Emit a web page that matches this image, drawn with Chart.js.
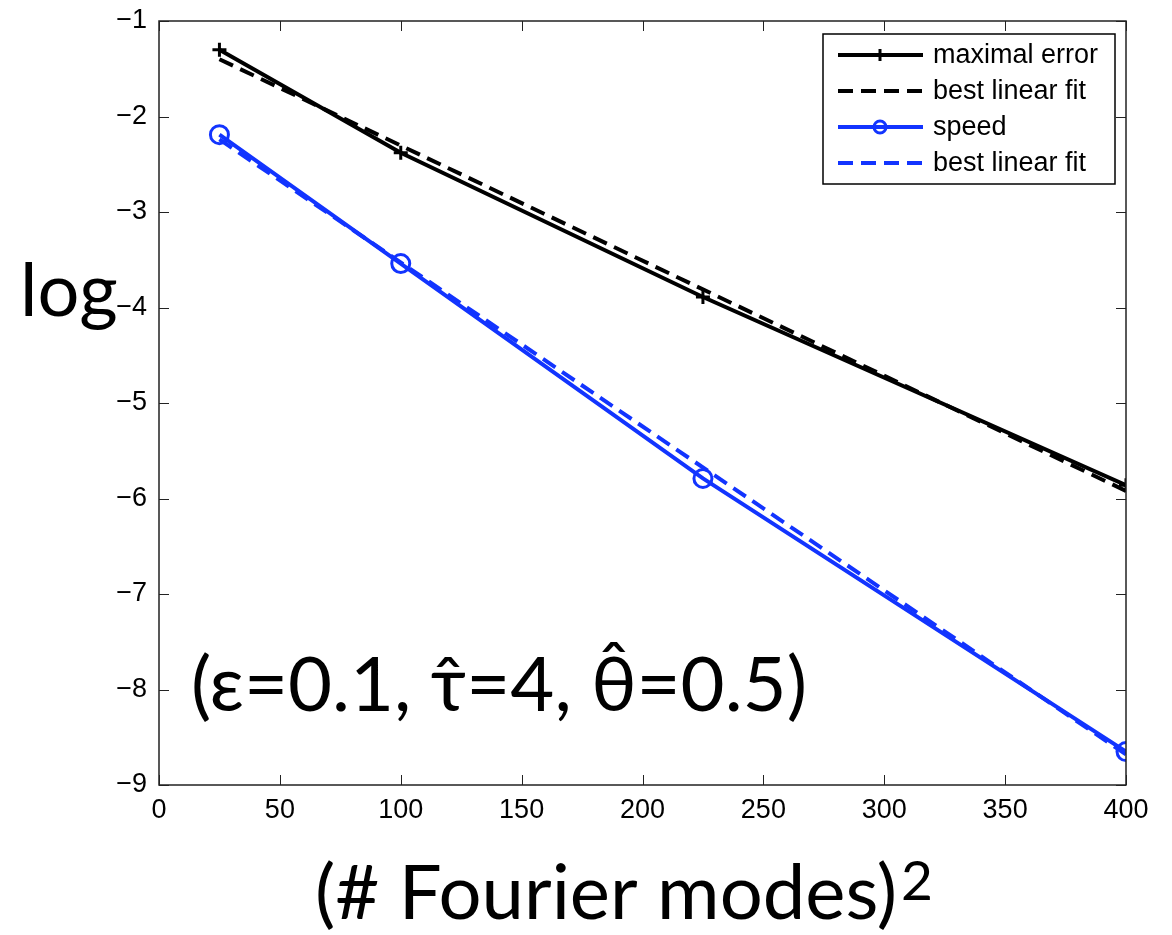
<!DOCTYPE html>
<html lang="en">
<head>
  <meta charset="UTF-8" />
  <title>Error vs Fourier modes</title>
  <script src="https://cdn.jsdelivr.net/npm/chart.js"></script>
  <style>
    html, body { margin: 0; padding: 0; background: #fff; }
    #wrap { width: 1172px; height: 935px; }
  </style>
</head>
<body>
  <div id="wrap"><canvas id="errChart" width="1172" height="935"></canvas></div>

  <script>
    // values
    const modes = [25, 100, 225, 400];
    const maxError = [-1.30, -2.38, -3.89, -5.86];
    const speed = [-2.19, -3.54, -5.79, -8.65];
    const fitModes = [25, 400];
    const maxErrorFit = [-1.40, -5.92];
    const speedFit = [-2.24, -8.68];

    const xTicks = [0, 50, 100, 150, 200, 250, 300, 350, 400];
    const yTicks = [-9, -8, -7, -6, -5, -4, -3, -2, -1];

    const blue = "rgb(18, 52, 255)";
    const tickFont = "'Liberation Sans', Helvetica, Arial, sans-serif";
    const bigFont = "Lato, 'Open Sans', sans-serif";

    const pts = (xs, ys) => xs.map((x, i) => ({ x: x, y: ys[i] }));

    // MATLAB-style box with inward ticks, legend and the big labels
    const decor = {
      id: "decor",
      afterDraw(chart) {
        const ctx = chart.ctx;
        const a = chart.chartArea;
        const sx = chart.scales.x, sy = chart.scales.y;
        ctx.save();
        ctx.strokeStyle = "#222";
        ctx.lineWidth = 1.5;
        ctx.strokeRect(a.left, a.top, a.right - a.left, a.bottom - a.top);
        ctx.lineWidth = 1;
        xTicks.forEach(v => {
          const px = Math.round(sx.getPixelForValue(v)) + 0.5;
          ctx.beginPath();
          ctx.moveTo(px, a.bottom); ctx.lineTo(px, a.bottom - 10);
          ctx.moveTo(px, a.top); ctx.lineTo(px, a.top + 10);
          ctx.stroke();
        });
        yTicks.forEach(v => {
          const py = Math.round(sy.getPixelForValue(v)) + 0.5;
          ctx.beginPath();
          ctx.moveTo(a.left, py); ctx.lineTo(a.left + 10, py);
          ctx.moveTo(a.right, py); ctx.lineTo(a.right - 10, py);
          ctx.stroke();
        });

        // legend
        const lx = a.right - 303, ly = a.top + 13, lw = 292, lh = 150;
        ctx.fillStyle = "#fff";
        ctx.fillRect(lx, ly, lw, lh);
        ctx.strokeStyle = "#000";
        ctx.lineWidth = 1.5;
        ctx.strokeRect(lx, ly, lw, lh);
        ctx.font = "27px " + tickFont;
        ctx.textBaseline = "middle";
        ctx.textAlign = "left";
        chart.data.datasets.forEach((ds, i) => {
          const ry = ly + 21 + i * 36;
          ctx.strokeStyle = ds.borderColor;
          ctx.lineWidth = 4;
          ctx.setLineDash(ds.borderDash || []);
          ctx.beginPath();
          ctx.moveTo(lx + 15, ry); ctx.lineTo(lx + 100, ry);
          ctx.stroke();
          ctx.setLineDash([]);
          if (ds.pointStyle === "cross") {
            ctx.lineWidth = 3;
            ctx.beginPath();
            ctx.moveTo(lx + 57, ry - 6); ctx.lineTo(lx + 57, ry + 6);
            ctx.stroke();
          } else if (ds.pointStyle === "circle") {
            ctx.lineWidth = 3;
            ctx.beginPath();
            ctx.arc(lx + 57, ry, 6, 0, Math.PI * 2);
            ctx.stroke();
          }
          ctx.fillStyle = "#000";
          ctx.fillText(ds.label, lx + 110, ry + 1);
        });

        // big labels
        ctx.fillStyle = "#000";
        ctx.textBaseline = "alphabetic";
        ctx.font = "74px " + bigFont;
        ctx.textAlign = "left";
        ctx.fillText("log", 20, sy.getPixelForValue(-4) + 8);

        ctx.font = "76px " + bigFont;
        ctx.fillText("(ε=0.1, τ̂=4, θ̂=0.5)", a.left + 32, sy.getPixelForValue(-8.1) + 12);

        ctx.font = "76px " + bigFont;
        const xt = "(# Fourier modes)";
        const w = ctx.measureText(xt).width;
        const x0 = 315;
        ctx.fillText(xt, x0, 919);
        ctx.font = "55px " + bigFont;
        ctx.fillText("2", x0 + w + 4, 900);
        ctx.restore();
      }
    };

    new Chart(document.getElementById("errChart").getContext("2d"), {
      type: "line",
      data: {
        datasets: [{
          label: "maximal error",
          data: pts(modes, maxError),
          borderColor: "#000",
          borderWidth: 4,
          pointStyle: "cross",
          pointRadius: 7,
          pointBorderWidth: 3,
          pointBorderColor: "#000"
        }, {
          label: "best linear fit",
          data: pts(fitModes, maxErrorFit),
          borderColor: "#000",
          borderWidth: 4,
          borderDash: [15, 8],
          pointRadius: 0
        }, {
          label: "speed",
          data: pts(modes, speed),
          borderColor: blue,
          borderWidth: 4,
          pointStyle: "circle",
          pointRadius: 9,
          pointBorderWidth: 3,
          pointBorderColor: blue,
          pointBackgroundColor: "rgba(0,0,0,0)"
        }, {
          label: "best linear fit",
          data: pts(fitModes, speedFit),
          borderColor: blue,
          borderWidth: 4,
          borderDash: [15, 8],
          pointRadius: 0
        }]
      },
      options: {
        responsive: false,
        animation: false,
        layout: { padding: { left: 0, right: 46, top: 21, bottom: 0 } },
        scales: {
          x: {
            type: "linear",
            min: 0, max: 400,
            grid: { display: false, drawTicks: false },
            border: { display: false },
            afterBuildTicks: s => { s.ticks = xTicks.map(v => ({ value: v })); },
            afterFit: s => { s.height = 150; s.paddingLeft = 0; s.paddingRight = 0; },
            ticks: {
              color: "#000",
              padding: 9,
              font: { family: tickFont, size: 27 }
            }
          },
          y: {
            min: -9, max: -1,
            grid: { display: false, drawTicks: false },
            border: { display: false },
            afterBuildTicks: s => { s.ticks = yTicks.map(v => ({ value: v })); },
            afterFit: s => { s.width = 159; s.paddingTop = 0; s.paddingBottom = 0; },
            ticks: {
              color: "#000",
              padding: 12,
              font: { family: tickFont, size: 27 },
              callback: v => String(v).replace("-", "\u2212")
            }
          }
        },
        plugins: {
          legend: { display: false },
          tooltip: { enabled: false }
        }
      },
      plugins: [decor]
    });
  </script>
</body>
</html>
